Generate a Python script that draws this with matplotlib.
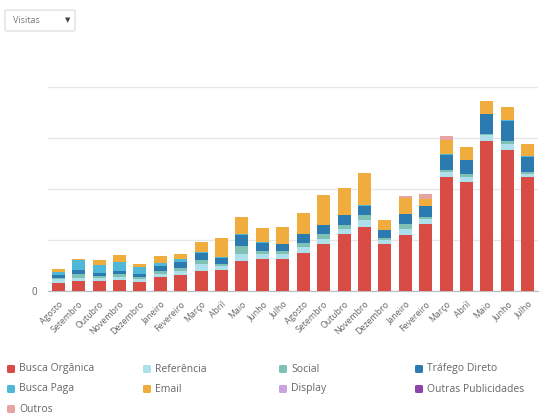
import numpy as np
import matplotlib
matplotlib.use("Agg")
import matplotlib.pyplot as plt
from matplotlib.patches import FancyBboxPatch

plt.rcParams['font.family'] = ['Open Sans', 'DejaVu Sans']

# meses (ago ano 1 -> jul ano 2)
meses = ["Agosto", "Setembro", "Outubro", "Novembro", "Dezembro", "Janeiro",
         "Fevereiro", "Março", "Abril", "Maio", "Junho", "Julho",
         "Agosto", "Setembro", "Outubro", "Novembro", "Dezembro", "Janeiro",
         "Fevereiro", "Março", "Abril", "Maio", "Junho", "Julho"]

# visitas por canal (valores estimados)
busca_organica = [163, 190, 190, 210, 176, 274, 308, 392, 406, 582, 621, 621,
                  751, 915, 1123, 1254, 915, 1092, 1319, 2234, 2136, 2934, 2769, 2234]
referencia = [65, 69, 59, 65, 59, 65, 78, 131, 84, 151, 98, 98,
              112, 112, 98, 131, 78, 131, 98, 98, 98, 131, 104, 65]
social = [33, 69, 39, 53, 39, 45, 59, 78, 39, 151, 65, 65,
          84, 98, 78, 98, 45, 84, 33, 45, 65, 20, 65, 33]
trafego_direto = [59, 78, 65, 65, 53, 112, 131, 151, 118, 210, 163, 143,
                  163, 163, 182, 182, 151, 196, 210, 280, 261, 392, 392, 294]
busca_paga = [59, 196, 151, 176, 143, 59, 49, 20, 20, 20, 14, 0,
              14, 14, 14, 12, 14, 12, 0, 20, 14, 0, 14, 12]
email = [59, 20, 98, 137, 65, 131, 106, 182, 367, 339, 269, 327,
         412, 574, 529, 641, 182, 314, 151, 274, 249, 249, 261, 249]
display = [0] * 24
outras_publicidades = [0] * 24
outros = [0, 0, 0, 0, 0, 0, 0, 0, 0, 0, 0, 0,
          0, 0, 0, 0, 0, 33, 98, 98, 0, 0, 0, 0]

series = [
    ("Busca Orgânica", busca_organica, "#d94b45"),
    ("Referência", referencia, "#aee0ec"),
    ("Social", social, "#7fc2b5"),
    ("Tráfego Direto", trafego_direto, "#2b7bb0"),
    ("Busca Paga", busca_paga, "#4fb8d8"),
    ("Email", email, "#f0ad3e"),
    ("Display", display, "#c9a3df"),
    ("Outras Publicidades", outras_publicidades, "#8e44ad"),
    ("Outros", outros, "#e8a3a3"),
]

fig = plt.figure(figsize=(5.6, 4.2), dpi=100)
ax = fig.add_axes([48 / 560, 1 - 291 / 420, 490 / 560, (291 - 81.9) / 420])

x = np.arange(len(meses))
bottom = np.zeros(len(meses))
for nome, vals, cor in series:
    vals = np.array(vals, dtype=float)
    ax.bar(x, vals, bottom=bottom, width=0.64, color=cor, linewidth=0, zorder=3)
    bottom += vals

ax.set_xlim(-0.5, 23.5)
ax.set_ylim(0, 4100)
ax.set_yticks([0, 1000, 2000, 3000, 4000])
ax.set_yticklabels(["0", "", "", "", ""])
ax.yaxis.grid(True, color="#e6e6e6", linewidth=0.9, zorder=0)
ax.tick_params(axis="y", length=0, labelsize=7, labelcolor="#666666", pad=8)
ax.set_xticks(x)
ax.set_xticklabels(meses, rotation=45, ha="right", rotation_mode="anchor",
                   fontsize=6.3, color="#666666")
ax.tick_params(axis="x", length=0, pad=6)
for s in ["top", "right", "left"]:
    ax.spines[s].set_visible(False)
ax.spines["bottom"].set_color("#c0c0c0")
ax.spines["bottom"].set_linewidth(0.9)

# caixa de seleção "Visitas"
W, H = 560, 420
fig.patches.append(FancyBboxPatch((5 / W, 1 - 31 / H), 70 / W, 21 / H,
                                  boxstyle="round,pad=0,rounding_size=0.004",
                                  transform=fig.transFigure, facecolor="white",
                                  edgecolor="#d8d8d8", linewidth=0.8))
fig.text(13 / W, 1 - 20.5 / H, "Visitas", fontsize=6.5, color="#777777", va="center")
fig.text(68 / W, 1 - 20.5 / H, "▼", fontsize=5, color="#444444", va="center",
         ha="center", family=["DejaVu Sans"])

# legenda
col_x = [7, 143, 279, 415]
row_y = [369, 389, 409]
for i, (nome, vals, cor) in enumerate(series):
    cx = col_x[i % 4]
    cy = row_y[i // 4]
    fig.patches.append(FancyBboxPatch((cx / W, 1 - (cy + 4) / H), 8 / W, 8 / H,
                                      boxstyle="round,pad=0,rounding_size=0.003",
                                      transform=fig.transFigure, facecolor=cor,
                                      edgecolor="none"))
    fig.text((cx + 12) / W, 1 - cy / H, nome, fontsize=7.5, color="#666666", va="center")

fig.savefig("out.png", dpi=100, facecolor="white")
